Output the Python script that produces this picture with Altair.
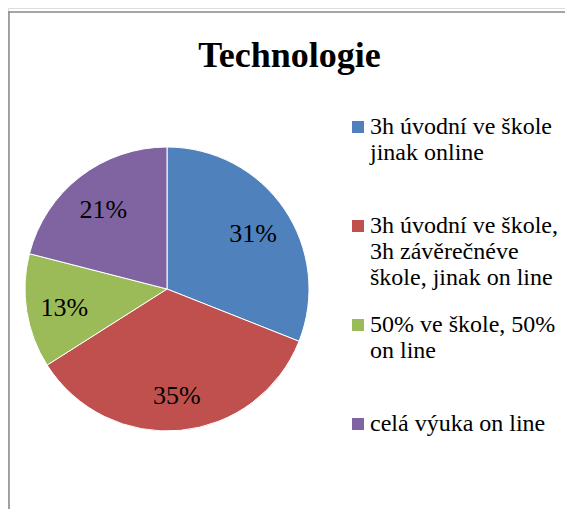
import altair as alt
import pandas as pd

# ---- data ----
categories = [
    "3h úvodní ve škole\njinak online",
    "3h úvodní ve škole,\n3h závěrečnéve\nškole, jinak on line",
    "50% ve škole, 50%\non line",
    "celá výuka on line",
]
shares = [31, 35, 13, 21]
colors = ["#4F81BD", "#C0504D", "#9BBB59", "#8064A2"]
title_text = "Technologie"

df = pd.DataFrame({
    "kategorie": categories,
    "podil": shares,
    "poradi": list(range(len(categories))),
})

W, H = 557, 501
CX, CY, R = 159, 281, 142
SERIF = "'Liberation Serif', 'Times New Roman', serif"

base = alt.Chart(df).transform_calculate(
    popisek="datum.podil + '%'"
).encode(
    theta=alt.Theta("podil:Q", stack=True),
    order=alt.Order("poradi:Q"),
)

legend = alt.Legend(
    title=None,
    orient="none",
    legendX=338,
    legendY=107,
    direction="vertical",
    labelExpr="split(datum.label, '\\n')",
    labelFont=SERIF,
    labelFontSize=24,
    labelColor="black",
    labelLimit=400,
    labelOffset=0,
    symbolType="square",
    symbolSize=144,
    symbolStrokeWidth=0,
    symbolOffset=0,
    padding=0,
    rowPadding=23,
    gridAlign="all",
)

pie = base.mark_arc(outerRadius=R, stroke="white", strokeWidth=1).encode(
    color=alt.Color(
        "kategorie:N",
        scale=alt.Scale(domain=categories, range=colors),
        legend=legend,
    ),
    x=alt.value(CX),
    y=alt.value(CY),
)
labels = base.mark_text(
    radius=104, font=SERIF, fontSize=26, dy=3
).encode(
    text="popisek:N",
    color=alt.value("black"),
    x=alt.value(CX),
    y=alt.value(CY),
)

frame = alt.Data(values=[{}])
top_line = alt.Chart(frame).mark_rule(color="#888888", strokeWidth=1.5).encode(
    x=alt.value(0), x2=alt.value(W), y=alt.value(4)
)
left_line = alt.Chart(frame).mark_rule(color="#888888", strokeWidth=1.5).encode(
    x=alt.value(1), y=alt.value(4), y2=alt.value(H)
)

chart = alt.layer(top_line, left_line, pie, labels).properties(
    width=W,
    height=H,
    autosize=alt.AutoSizeParams(type="none"),
    padding=0,
    title=alt.TitleParams(
        title_text,
        font=SERIF,
        fontSize=36,
        fontWeight="bold",
        color="black",
        anchor="middle",
        frame="group",
        offset=-67,
        dx=3,
    ),
).configure_view(stroke=None).configure(
    background="white", font=SERIF
).configure_legend(
    labelFont=SERIF, labelFontSize=24, labelColor="black"
)

chart.save("out.html", embed_options={"renderer": "svg", "actions": False})
